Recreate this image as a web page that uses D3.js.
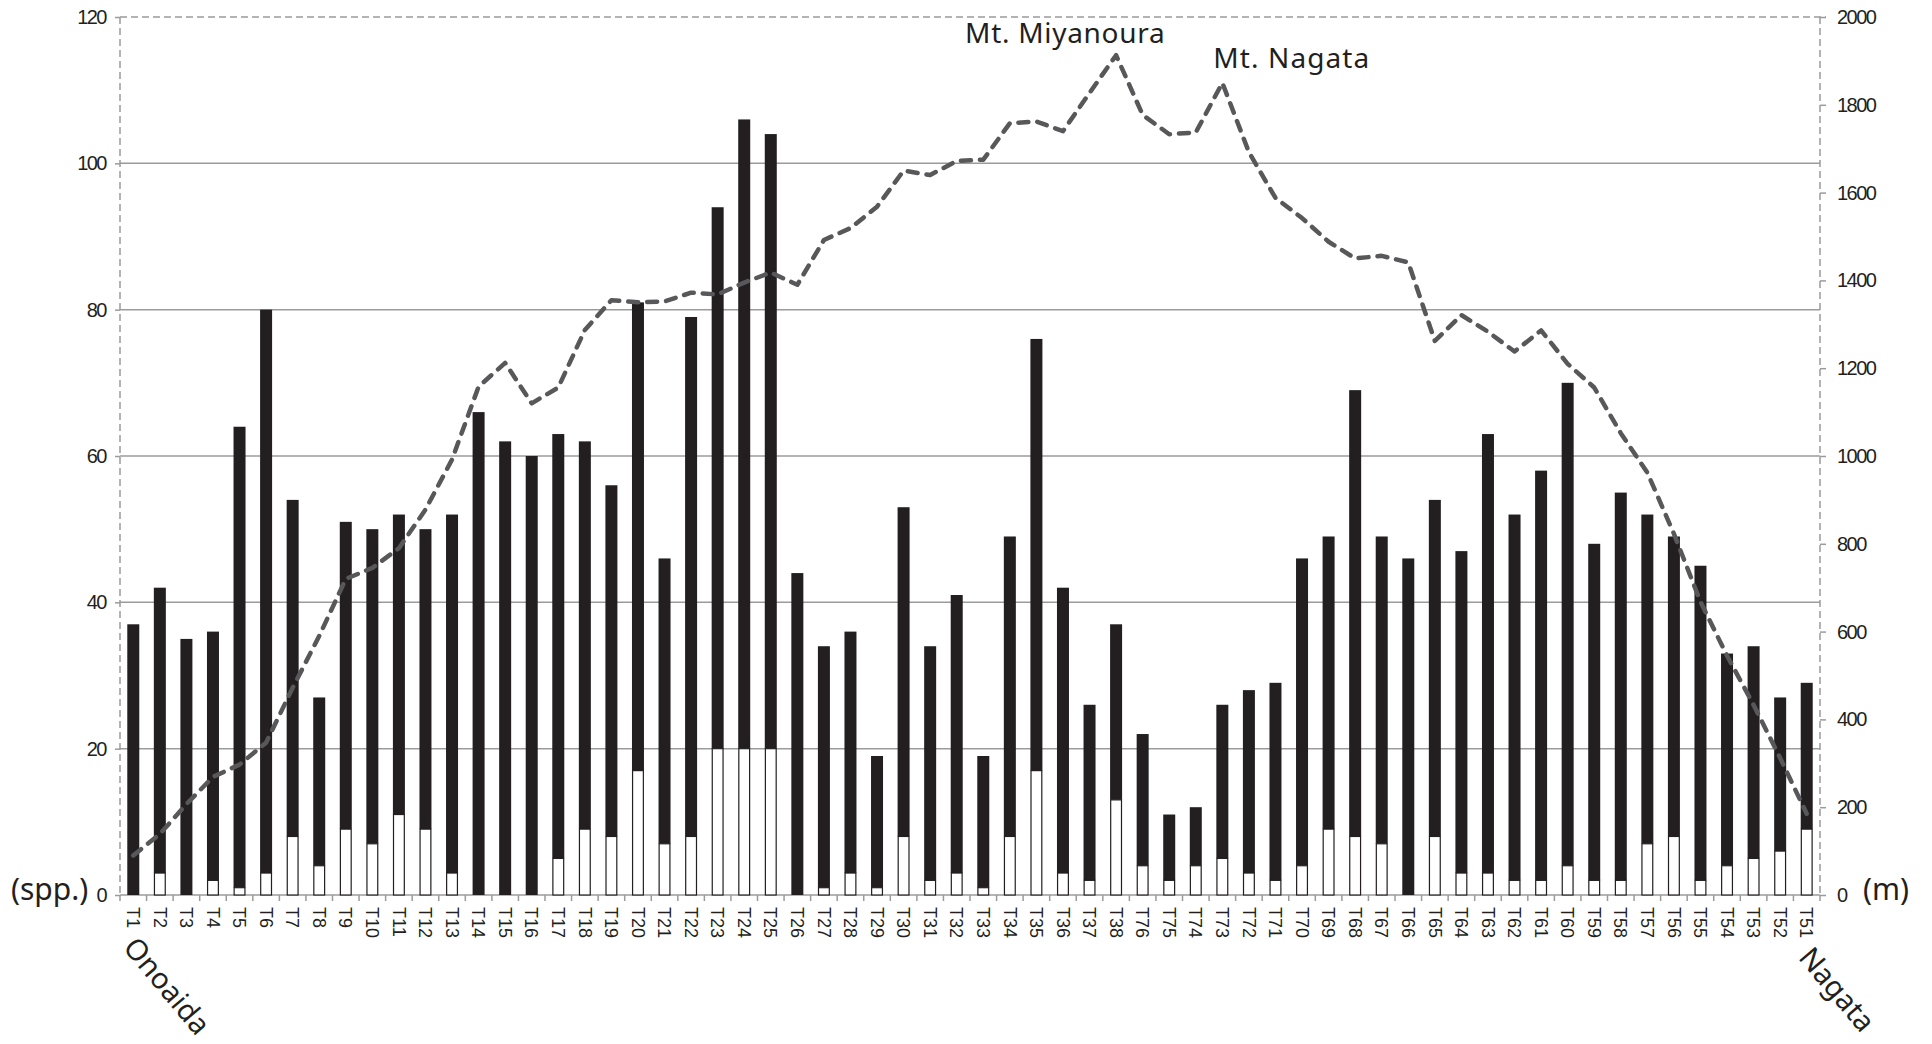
<!DOCTYPE html>
<html>
<head>
<meta charset="utf-8">
<script src="https://cdn.jsdelivr.net/npm/d3@7"></script>
<style>
	body { margin: 0; background: #fff; }
	#chart svg { display: block; }
</style>
</head>
<body>
<div id="chart"></div>
<script>
// Transects in order along the route (Onoaida -> Nagata)
var categories = ["T1", "T2", "T3", "T4", "T5", "T6", "T7", "T8", "T9", "T10",
	"T11", "T12", "T13", "T14", "T15", "T16", "T17", "T18", "T19", "T20",
	"T21", "T22", "T23", "T24", "T25", "T26", "T27", "T28", "T29", "T30",
	"T31", "T32", "T33", "T34", "T35", "T36", "T37", "T38",
	"T76", "T75", "T74", "T73", "T72", "T71", "T70", "T69", "T68", "T67",
	"T66", "T65", "T64", "T63", "T62", "T61", "T60", "T59", "T58", "T57",
	"T56", "T55", "T54", "T53", "T52", "T51"];

// total number of species (spp.)
var totalSpp = [37, 42, 35, 36, 64, 80, 54, 27, 51, 50,
	52, 50, 52, 66, 62, 60, 63, 62, 56, 81,
	46, 79, 94, 106, 104, 44, 34, 36, 19, 53,
	34, 41, 19, 49, 76, 42, 26, 37,
	22, 11, 12, 26, 28, 29, 46, 49, 69, 49,
	46, 54, 47, 63, 52, 58, 70, 48, 55, 52,
	49, 45, 33, 34, 27, 29];

// white (lower) part of each bar
var whiteSpp = [0, 3, 0, 2, 1, 3, 8, 4, 9, 7,
	11, 9, 3, 0, 0, 0, 5, 9, 8, 17,
	7, 8, 20, 20, 20, 0, 1, 3, 1, 8,
	2, 3, 1, 8, 17, 3, 2, 13,
	4, 2, 4, 5, 3, 2, 4, 9, 8, 7,
	0, 8, 3, 3, 2, 2, 4, 2, 2, 7,
	8, 2, 4, 5, 6, 9];

// altitude (m)
var elevation = [90, 139, 207, 269, 297, 347, 472, 590, 720, 745,
	790, 878, 992, 1158, 1212, 1120, 1156, 1287, 1355, 1350,
	1352, 1372, 1368, 1395, 1418, 1390, 1492, 1519, 1568, 1650,
	1640, 1672, 1675, 1758, 1762, 1740, 1827, 1913,
	1777, 1733, 1737, 1850, 1692, 1588, 1542, 1488, 1450, 1456,
	1441, 1262, 1321, 1283, 1238, 1286, 1210, 1156, 1052, 962,
	823, 668, 545, 433, 312, 185];

var sppTicks = [0, 20, 40, 60, 80, 100, 120];
var elevTicks = [0, 200, 400, 600, 800, 1000, 1200, 1400, 1600, 1800, 2000];

function drawChart() {
	var width = 1932,
		height = 1044;
	var marginTop = 17,
		marginBottom = 149,
		marginLeft = 120,
		marginRight = 112;

	var svg = d3.select("#chart").append("svg")
		.attr("width", width)
		.attr("height", height);

	var rows = categories.map(function (c, i) {
		return { key: c, total: totalSpp[i], white: whiteSpp[i], elev: elevation[i] };
	});

	var x = d3.scaleBand()
		.domain(categories)
		.range([marginLeft, width - marginRight])
		.padding(0);
	var y = d3.scaleLinear()
		.domain([0, 120])
		.range([height - marginBottom, marginTop]);
	var yElev = d3.scaleLinear()
		.domain([0, 2000])
		.range([height - marginBottom, marginTop]);

	var gridColor = "#9b9b9b";
	var inkColor = "#231f20";
	var numFont = "'Liberation Sans', Arial, sans-serif";
	var labelFont = "'Noto Sans', 'Noto Sans CJK JP', sans-serif";

	// Horizontal gridlines (20..100 solid)
	svg.append("g")
		.selectAll("line")
		.data(sppTicks.filter(function (d) { return d > 0 && d < 120; }))
		.enter()
		.append("line")
		.attr("x1", marginLeft)
		.attr("x2", width - marginRight)
		.attr("y1", function (d) { return y(d); })
		.attr("y2", function (d) { return y(d); })
		.attr("stroke", gridColor)
		.attr("stroke-width", 1.5);

	// Dashed frame: top, left, right
	var frame = svg.append("g")
		.attr("stroke", gridColor)
		.attr("stroke-width", 1.5)
		.attr("stroke-dasharray", "7,4")
		.attr("fill", "none");
	frame.append("line")
		.attr("x1", marginLeft).attr("x2", width - marginRight + 6)
		.attr("y1", y(120)).attr("y2", y(120));
	frame.append("line")
		.attr("x1", marginLeft).attr("x2", marginLeft)
		.attr("y1", y(120)).attr("y2", y(0));
	frame.append("line")
		.attr("x1", width - marginRight).attr("x2", width - marginRight)
		.attr("y1", y(120)).attr("y2", y(0));

	// Left axis
	var leftAxis = svg.append("g")
		.attr("transform", `translate(${marginLeft}, 0)`)
		.call(d3.axisLeft(y).tickValues(sppTicks).tickSize(5).tickPadding(9));
	leftAxis.select(".domain").remove();
	leftAxis.selectAll(".tick line").attr("stroke", gridColor).attr("stroke-width", 1.5);
	leftAxis.selectAll(".tick text")
		.attr("fill", inkColor)
		.style("font-family", numFont)
		.style("font-size", "20px")
		.style("letter-spacing", "-1.5px");

	// Right axis (altitude)
	var rightAxis = svg.append("g")
		.attr("transform", `translate(${width - marginRight}, 0)`)
		.call(d3.axisRight(yElev).tickValues(elevTicks).tickFormat(d3.format("d"))
			.tickSize(6).tickPadding(11));
	rightAxis.select(".domain").remove();
	rightAxis.selectAll(".tick line").attr("stroke", gridColor).attr("stroke-width", 1.5);
	rightAxis.selectAll(".tick text")
		.attr("fill", inkColor)
		.style("font-family", numFont)
		.style("font-size", "20px")
		.style("letter-spacing", "-1.5px");

	// Bottom axis with ticks between categories
	var bottom = svg.append("g")
		.attr("transform", `translate(0, ${y(0)})`);
	bottom.append("line")
		.attr("x1", marginLeft).attr("x2", width - marginRight)
		.attr("stroke", gridColor).attr("stroke-width", 1.5);
	bottom.selectAll("line.sep")
		.data(categories.concat(["end"]))
		.enter()
		.append("line")
		.attr("class", "sep")
		.attr("x1", function (d, i) { return marginLeft + i * x.step(); })
		.attr("x2", function (d, i) { return marginLeft + i * x.step(); })
		.attr("y1", 0).attr("y2", 6)
		.attr("stroke", gridColor).attr("stroke-width", 1.5);
	bottom.selectAll("text")
		.data(categories)
		.enter()
		.append("text")
		.attr("transform", function (d) {
			return `translate(${x(d) + x.bandwidth() / 2}, 12) rotate(90)`;
		})
		.attr("dy", "0.35em")
		.attr("fill", inkColor)
		.style("font-family", numFont)
		.style("font-size", "18px")
		.text(function (d) { return d; });

	// Bars
	var barW = 12;
	var bars = svg.append("g");
	bars.selectAll("rect.top")
		.data(rows)
		.enter()
		.append("rect")
		.attr("class", "top")
		.attr("x", function (d) { return x(d.key) + x.bandwidth() / 2 - barW / 2; })
		.attr("width", barW)
		.attr("y", function (d) { return y(d.total); })
		.attr("height", function (d) { return y(d.white) - y(d.total); })
		.attr("fill", inkColor);
	bars.selectAll("rect.bottom")
		.data(rows.filter(function (d) { return d.white > 0; }))
		.enter()
		.append("rect")
		.attr("class", "bottom")
		.attr("x", function (d) { return x(d.key) + x.bandwidth() / 2 - barW / 2 + 0.6; })
		.attr("width", barW - 1.2)
		.attr("y", function (d) { return y(d.white); })
		.attr("height", function (d) { return y(0) - y(d.white); })
		.attr("fill", "#fff")
		.attr("stroke", inkColor)
		.attr("stroke-width", 1.2);

	// Altitude line
	var line = d3.line()
		.x(function (d) { return x(d.key) + x.bandwidth() / 2; })
		.y(function (d) { return yElev(d.elev); });
	svg.append("path")
		.datum(rows)
		.attr("d", line)
		.attr("fill", "none")
		.attr("stroke", "#58585a")
		.attr("stroke-width", 4.5)
		.attr("stroke-dasharray", "10,9")
		.attr("stroke-linecap", "round")
		.attr("stroke-linejoin", "round");

	// Peak annotations
	var labels = svg.append("g")
		.attr("fill", inkColor)
		.style("font-family", labelFont)
		.style("font-size", "28px");
	labels.append("text")
		.attr("x", x("T38") + x.bandwidth() / 2 - 151)
		.attr("y", 43)
		.style("letter-spacing", "0.7px")
		.text("Mt. Miyanoura");
	labels.append("text")
		.attr("x", x("T73") + x.bandwidth() / 2 - 9)
		.attr("y", 68)
		.style("letter-spacing", "1.1px")
		.text("Mt. Nagata");

	// Axis unit labels
	labels.append("text")
		.attr("x", 11)
		.attr("y", 900)
		.style("font-size", "30px")
		.text("(spp.)");
	labels.append("text")
		.attr("x", 1863)
		.attr("y", 900)
		.style("font-size", "30px")
		.text("(m)");

	// Route end points
	labels.append("text")
		.attr("transform", `translate(${x("T1") + 2}, 948) rotate(50)`)
		.style("font-size", "29px")
		.text("Onoaida");
	labels.append("text")
		.attr("transform", `translate(${x("T51") + 4}, 958) rotate(50)`)
		.style("font-size", "29px")
		.text("Nagata");
}

drawChart();
</script>
</body>
</html>
